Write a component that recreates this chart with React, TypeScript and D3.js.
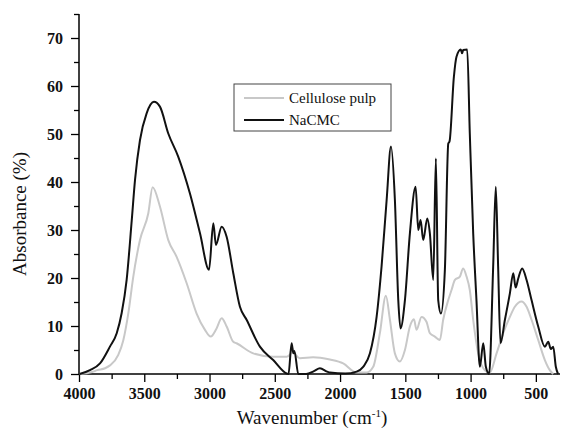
import React, { useEffect, useRef } from 'react';
import * as d3 from 'd3';

// wavenumber (cm-1), absorbance (%)
const nacmcWave = [3995, 3916, 3839, 3763, 3711, 3673, 3635, 3596, 3571, 3533, 3482, 3426, 3380, 3316, 3240, 3150, 3073, 3004, 2971, 2951, 2907, 2869, 2818, 2767, 2716, 2614, 2512, 2409, 2395, 2371, 2358, 2350, 2320, 2260, 2200, 2154, 2100, 2078, 1960, 1873, 1823, 1771, 1720, 1682, 1643, 1610, 1580, 1554, 1537, 1503, 1465, 1421, 1401, 1383, 1363, 1332, 1312, 1286, 1266, 1248, 1227, 1197, 1171, 1161, 1128, 1108, 1075, 1065, 1057, 1026, 1006, 980, 955, 929, 903, 883, 858, 827, 807, 789, 771, 737, 699, 673, 655, 635, 605, 571, 533, 482, 431, 405, 385, 367, 347, 330];
const nacmcAbs = [0, 0.8, 2.2, 5.7, 8.5, 12.7, 19.6, 32, 40.4, 48.7, 54.3, 56.7, 55.7, 50.1, 45.3, 37.6, 29.3, 21.7, 31.4, 26.9, 30.7, 28.6, 21, 14, 11.3, 5.7, 2.9, 0.1, 0, 6.4, 4.3, 4.8, 0, 0, 0.6, 1.2, 0.5, 0.3, 0.1, 0.5, 1.5, 4.3, 11.9, 22.4, 36.3, 47.4, 36.3, 15.4, 9.5, 15.4, 29.3, 39, 30, 32.1, 27.9, 32.4, 29.3, 19.6, 44.9, 15.4, 12.6, 21.7, 48, 48.5, 61.9, 66.1, 67.6, 66.8, 67.5, 67.6, 50.1, 29.3, 15.4, 1.5, 6.4, 1.5, 0, 22.4, 39, 22.4, 6.4, 11.3, 16.8, 21, 18, 19.9, 22, 19.6, 15.4, 9.9, 5.7, 6.7, 5.2, 5.7, 1.5, 0];

const pulpWave = [3995, 3900, 3860, 3800, 3763, 3699, 3661, 3622, 3584, 3533, 3469, 3436, 3380, 3316, 3252, 3175, 3099, 3035, 2991, 2946, 2907, 2869, 2818, 2793, 2665, 2512, 2409, 2380, 2371, 2350, 2307, 2206, 2078, 1976, 1873, 1797, 1746, 1695, 1649, 1618, 1580, 1542, 1503, 1465, 1434, 1414, 1376, 1338, 1312, 1274, 1235, 1210, 1171, 1146, 1120, 1082, 1057, 1031, 1006, 980, 942, 891, 853, 801, 750, 699, 661, 610, 571, 533, 482, 431, 393, 367];
const pulpAbs = [0, 0.4, 0.8, 1.2, 1.8, 4, 7, 12.7, 20.3, 27.9, 33.5, 38.9, 34.9, 27.9, 24.4, 18.9, 12.6, 9.2, 7.8, 9.5, 11.6, 9.9, 6.7, 6.4, 4.3, 3.6, 3.6, 4.2, 5.6, 4.5, 3.3, 3.5, 3, 2.2, 0.3, 0.3, 1.5, 8.5, 16.3, 11.3, 4.3, 2.6, 5, 9.9, 11.4, 9.2, 11.9, 10.9, 8.5, 7.8, 7.1, 11.3, 15.4, 17.5, 19.6, 20.3, 22, 20.3, 17.5, 11.3, 4.3, 0.8, 0.3, 4.3, 8.5, 11.9, 14, 15.1, 14, 11.3, 7.1, 2.9, 0.8, 0];

const seriesNames = ['Cellulose pulp', 'NaCMC'];
const seriesColors = ['#c8c8c8', '#111111'];
const xTicks = [4000, 3500, 3000, 2500, 2000, 1500, 1000, 500];
const yTicks = [0, 10, 20, 30, 40, 50, 60, 70];

const App = () => {
  const svgRef = useRef(null);

  useEffect(() => {
    const svg = d3.select(svgRef.current);
    svg.selectAll('*').remove();
    const font = 'Liberation Serif, Times New Roman, serif';

    const x = d3.scaleLinear().domain([4000, 315]).range([79, 560]);
    const y = d3.scaleLinear().domain([0, 75]).range([374, 14]);

    // axes
    const xAxis = svg.append('g').attr('transform', 'translate(0,374)');
    xAxis.call(d3.axisBottom(x).tickValues(d3.range(3750, 300, -500)).tickSize(5).tickFormat(() => ''));
    xAxis.call(g => g.append('g').call(d3.axisBottom(x).tickValues(xTicks).tickSize(8).tickPadding(6).tickFormat(d3.format('d'))));
    xAxis.selectAll('.domain').remove();
    xAxis.append('line').attr('x1', 79).attr('x2', 560).attr('stroke', '#000').attr('stroke-width', 1.5);

    const yAxis = svg.append('g').attr('transform', 'translate(79,0)');
    yAxis.call(d3.axisLeft(y).tickValues(d3.range(5, 80, 10)).tickSize(5).tickFormat(() => ''));
    yAxis.call(g => g.append('g').call(d3.axisLeft(y).tickValues(yTicks).tickSize(8).tickPadding(8)));
    yAxis.selectAll('.domain').remove();
    yAxis.append('line').attr('y1', 14).attr('y2', 374).attr('stroke', '#000').attr('stroke-width', 1.5);

    svg.selectAll('g').attr('font-family', font);
    svg.selectAll('.tick line').attr('stroke', '#000').attr('stroke-width', 1.3);
    svg.selectAll('.tick text')
      .attr('font-family', font)
      .attr('font-weight', 'bold')
      .attr('font-size', 16)
      .attr('fill', '#111');

    // curves
    const data = [
      pulpWave.map((w, i) => [w, pulpAbs[i]]),
      nacmcWave.map((w, i) => [w, nacmcAbs[i]]),
    ];
    const line = d3.line().x(d => x(d[0])).y(d => y(d[1])).curve(d3.curveMonotoneX);
    data.forEach((d, i) => {
      svg.append('path')
        .datum(d.slice().reverse())
        .attr('d', line)
        .attr('fill', 'none')
        .attr('stroke', seriesColors[i])
        .attr('stroke-width', 2)
        .attr('stroke-linejoin', 'round');
    });

    // legend
    const lg = svg.append('g');
    lg.append('rect').attr('x', 234).attr('y', 84).attr('width', 157).attr('height', 47)
      .attr('fill', '#fff').attr('stroke', '#444').attr('stroke-width', 1);
    seriesNames.forEach((name, i) => {
      const yy = 98 + i * 22;
      lg.append('line').attr('x1', 244).attr('x2', 284).attr('y1', yy).attr('y2', yy)
        .attr('stroke', seriesColors[i]).attr('stroke-width', 2);
      lg.append('text').attr('x', 289).attr('y', yy + 5).text(name)
        .attr('font-family', font).attr('font-size', 15).attr('fill', '#111');
    });

    // axis titles
    svg.append('text')
      .attr('transform', 'translate(26,214) rotate(-90)')
      .attr('text-anchor', 'middle')
      .attr('font-family', font).attr('font-size', 19).attr('fill', '#111')
      .text('Absorbance (%)');

    const t = svg.append('text')
      .attr('x', 312).attr('y', 424)
      .attr('text-anchor', 'middle')
      .attr('font-family', font).attr('font-size', 19).attr('fill', '#111');
    t.append('tspan').text('Wavenumber (cm');
    t.append('tspan').attr('font-size', 11).attr('dy', -7).text('-1');
    t.append('tspan').attr('dy', 7).text(')');
  }, []);

  return <svg ref={svgRef} width={562} height={430} style={{ position: 'absolute', left: 0, top: 0 }} />;
};

export default App;
